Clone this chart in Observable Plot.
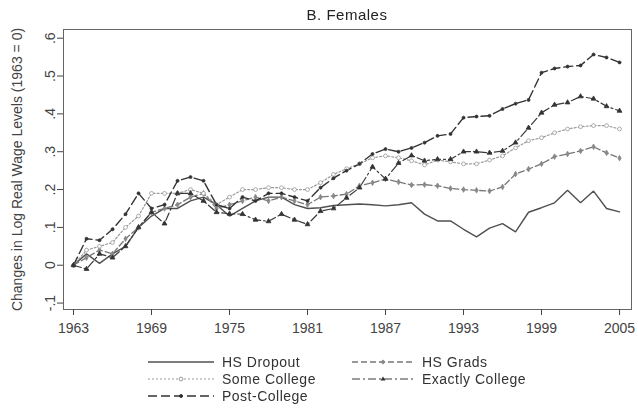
<!DOCTYPE html>
<html><head><meta charset="utf-8">
<script src="https://cdn.jsdelivr.net/npm/d3@7"></script>
<script src="https://cdn.jsdelivr.net/npm/@observablehq/plot@0.6"></script>
<style>
html,body{margin:0;padding:0;background:#fff}
body{width:638px;height:409px;overflow:hidden;position:relative;font-family:"Liberation Sans",Arial,sans-serif;color:#333}
#title{position:absolute;left:0;top:6px;width:694px;text-align:center;font-size:15px;letter-spacing:0.5px;color:#222}
#chart{position:absolute;left:0;top:22px}
.leg{position:absolute;height:16px;display:flex;align-items:center;font-size:14px;letter-spacing:0.5px;color:#333;white-space:nowrap}
.leg svg{margin-right:8px}
#wrap{filter:blur(0.35px)}
</style></head>
<body><div id="wrap">
<div id="title">B. Females</div>
<div id="chart"></div>
<div id="legend"></div>
</div>
<script>
const years = [1963,1964,1965,1966,1967,1968,1969,1970,1971,1972,1973,1974,1975,1976,1977,1978,1979,1980,1981,1982,1983,1984,1985,1986,1987,1988,1989,1990,1991,1992,1993,1994,1995,1996,1997,1998,1999,2000,2001,2002,2003,2004,2005];
const hsDropout = [0,0.03,0.005,0.03,0.05,0.10,0.13,0.15,0.15,0.17,0.18,0.16,0.13,0.15,0.17,0.18,0.18,0.16,0.15,0.152,0.158,0.16,0.162,0.16,0.157,0.16,0.165,0.135,0.117,0.117,0.095,0.075,0.098,0.11,0.088,0.14,0.152,0.165,0.198,0.165,0.196,0.15,0.141];
const hsGrads = [0,0.02,0.04,0.03,0.07,0.10,0.14,0.15,0.16,0.18,0.19,0.15,0.16,0.17,0.18,0.17,0.18,0.17,0.16,0.18,0.183,0.188,0.21,0.218,0.228,0.22,0.212,0.213,0.21,0.203,0.20,0.198,0.196,0.207,0.241,0.254,0.268,0.287,0.294,0.302,0.313,0.297,0.283];
const someCollege = [0,0.04,0.05,0.06,0.10,0.13,0.19,0.19,0.19,0.20,0.19,0.16,0.18,0.20,0.20,0.205,0.205,0.20,0.20,0.218,0.24,0.255,0.268,0.284,0.289,0.284,0.276,0.265,0.278,0.273,0.268,0.268,0.278,0.289,0.31,0.329,0.337,0.35,0.36,0.366,0.369,0.369,0.36];
const exactlyCollege = [0,-0.01,0.03,0.02,0.05,0.10,0.14,0.11,0.19,0.19,0.17,0.14,0.136,0.135,0.12,0.116,0.135,0.12,0.108,0.143,0.15,0.178,0.205,0.26,0.228,0.27,0.29,0.276,0.28,0.28,0.30,0.30,0.297,0.302,0.324,0.363,0.403,0.424,0.43,0.446,0.44,0.42,0.408];
const postCollege = [0,0.07,0.066,0.095,0.135,0.19,0.15,0.16,0.223,0.233,0.223,0.16,0.15,0.18,0.17,0.19,0.19,0.18,0.17,0.205,0.23,0.25,0.268,0.294,0.307,0.30,0.31,0.324,0.342,0.347,0.39,0.393,0.395,0.413,0.427,0.437,0.509,0.52,0.525,0.528,0.557,0.549,0.536];
const seriesNames = ["HS Dropout","HS Grads","Some College","Exactly College","Post-College"];
const xTicks = [1963,1969,1975,1981,1987,1993,1999,2005];
const yTicks = [-0.1,0,0.1,0.2,0.3,0.4,0.5,0.6];
const yTickLabels = ["-.1","0",".1",".2",".3",".4",".5",".6"];

const seriesValues = [hsDropout,hsGrads,someCollege,exactlyCollege,postCollege];
const styles = {
  "HS Dropout":     {stroke:"#505050", dash:null,      width:1.4, symbol:null},
  "HS Grads":       {stroke:"#777",    dash:"6,3",     width:1.3, symbol:"diamond", fill:"#888", mstroke:"#888", r:1.7},
  "Some College":   {stroke:"#999",    dash:"2,2",     width:1.2, symbol:"circle", fill:"#fff", mstroke:"#999", r:1.9},
  "Exactly College":{stroke:"#3a3a3a", dash:"8,3,2,3", width:1.2, symbol:"triangle", fill:"#333", mstroke:"#333", r:1.8},
  "Post-College":   {stroke:"#333",    dash:"9,4",     width:1.4, symbol:"circle", fill:"#333", mstroke:"#333", r:1.5}
};
const rows = seriesNames.map((s,i)=>years.map((yr,j)=>({series:s, year:yr, value:seriesValues[i][j]})));

const marks = [Plot.frame({stroke:"#666", strokeWidth:1})];
seriesNames.forEach((s,i)=>{
  const st = styles[s];
  marks.push(Plot.line(rows[i], {x:"year", y:"value", stroke:st.stroke, strokeWidth:st.width, strokeDasharray:st.dash, strokeLinejoin:"miter"}));
});
seriesNames.forEach((s,i)=>{
  const st = styles[s];
  if (st.symbol) marks.push(Plot.dot(rows[i], {x:"year", y:"value", symbol:st.symbol, r:st.r, fill:st.fill, stroke:st.mstroke, strokeWidth:0.8}));
});
marks.push(Plot.axisX({ticks:xTicks, tickFormat:d=>String(d), tickSize:6, tickPadding:8, fontSize:14, color:"#444", label:null}));
marks.push(Plot.axisY({ticks:yTicks, tickFormat:(d)=>yTickLabels[yTicks.indexOf(d)], tickSize:6, tickRotate:-90, fontSize:14, color:"#444",
  label:"Changes in Log Real Wage Levels (1963 = 0)", labelAnchor:"center", labelArrow:"none", labelOffset:51}));

const chart = Plot.plot({
  width:638, height:320,
  marginLeft:63, marginRight:7, marginTop:7, marginBottom:33,
  style:{fontFamily:"Liberation Sans, Arial, sans-serif", fontSize:"14px", color:"#444", background:"#fff"},
  x:{domain:[1962.23,2005.92]},
  y:{domain:[-0.117,0.623]},
  marks
});
document.getElementById("chart").appendChild(chart);

// legend
const legendPos = {
  "HS Dropout":[148,354], "Some College":[148,371], "Post-College":[148,388],
  "HS Grads":[352,354], "Exactly College":[352,371]
};
const legend = document.getElementById("legend");
seriesNames.forEach(s=>{
  const st = styles[s];
  const [lx,ly] = legendPos[s];
  const div = document.createElement("div");
  div.className="leg";
  div.style.left = lx+"px"; div.style.top = ly+"px";
  const w = s==="HS Grads"||s==="Exactly College" ? 62 : 66;
  let svg = `<svg width="${w}" height="16"><line x1="0" x2="${w}" y1="8" y2="8" stroke="${st.stroke}" stroke-width="${st.width}" ${st.dash?`stroke-dasharray="${st.dash}"`:""}/>`;
  if (st.symbol==="circle") svg += `<circle cx="${w/2}" cy="8" r="${st.r}" fill="${st.fill}" stroke="${st.mstroke}"/>`;
  if (st.symbol==="triangle") svg += `<path d="M${w/2},5.5 L${w/2+2.5},9.5 L${w/2-2.5},9.5Z" fill="${st.fill}"/>`;
  if (st.symbol==="diamond") svg += `<path d="M${w/2},5.5 L${w/2+2.5},8 L${w/2},10.5 L${w/2-2.5},8Z" fill="${st.fill}"/>`;
  svg += `</svg>`;
  div.innerHTML = svg + `<span>${s}</span>`;
  legend.appendChild(div);
});
</script>
</body></html>
